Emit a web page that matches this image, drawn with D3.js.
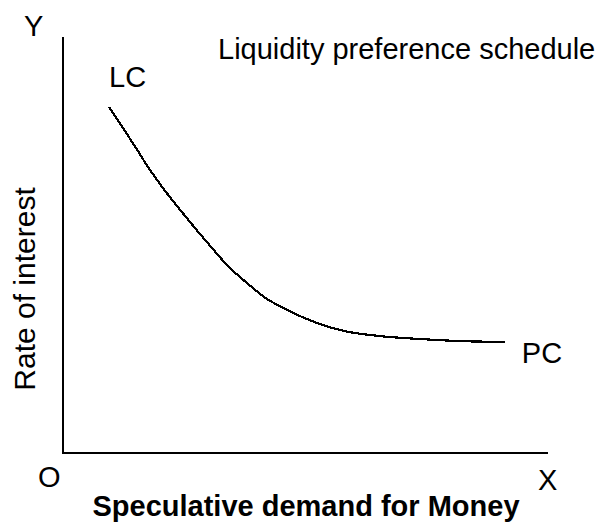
<!DOCTYPE html>
<html>
<head>
<meta charset="utf-8">
<script src="https://cdn.jsdelivr.net/npm/d3@7"></script>
<style>
  body { margin: 0; background: #fff; }
  svg { display: block; font-family: 'Liberation Sans', Arial, sans-serif; }
</style>
</head>
<body>
<svg width="600" height="522"></svg>
<script>
// speculative demand for money (x) vs rate of interest (y)
const demand = [9.5, 11.8, 14.9, 17.5, 20.6, 23.5, 27.2, 30.7, 33.8, 37.9, 42.1, 45.4, 48.9, 53.0, 58.1, 65.4, 73.6, 81.9, 91.1]
const interest = [83.2, 79.1, 73.6, 68.8, 63.7, 59.4, 54.1, 49.3, 45.2, 40.9, 37.0, 34.9, 32.9, 31.0, 29.3, 28.1, 27.4, 26.9, 26.7]

const title = 'Liquidity preference schedule'
const xTitle = 'Speculative demand for Money'
const yTitle = 'Rate of interest'

const svg = d3.select('svg')

const x = d3.scaleLinear().domain([0, 100]).range([63, 548])
const y = d3.scaleLinear().domain([0, 100]).range([453, 37])

const points = demand.map((d, i) => [d, interest[i]])

// axes (plain lines, no ticks)
svg.append('line')
  .attr('x1', x(0)).attr('x2', x(0))
  .attr('y1', y(100)).attr('y2', y(0))
  .attr('stroke', '#000').attr('stroke-width', 2)

svg.append('line')
  .attr('x1', x(0) - 1).attr('x2', x(100))
  .attr('y1', y(0)).attr('y2', y(0))
  .attr('stroke', '#000').attr('stroke-width', 2)

const line = d3.line()
  .x(d => x(d[0]))
  .y(d => y(d[1]))
  .curve(d3.curveMonotoneX)

svg.append('path')
  .datum(points)
  .attr('d', line)
  .attr('fill', 'none')
  .attr('stroke', '#000')
  .attr('stroke-width', 2.2)
  .attr('shape-rendering', 'crispEdges')

const first = points[0]
const last = points[points.length - 1]

svg.append('text')
  .attr('x', x(first[0]))
  .attr('y', y(first[1]) - 20)
  .attr('font-size', 29)
  .text('LC')

svg.append('text')
  .attr('x', x(last[0]) + 17)
  .attr('y', y(last[1]) + 21)
  .attr('font-size', 29)
  .text('PC')

svg.append('text')
  .attr('x', 218).attr('y', 59)
  .attr('font-size', 29)
  .text(title)

svg.append('text')
  .attr('x', 24).attr('y', 36)
  .attr('font-size', 29)
  .text('Y')

svg.append('text')
  .attr('x', 38).attr('y', 487)
  .attr('font-size', 29)
  .text('O')

svg.append('text')
  .attr('x', 538).attr('y', 490)
  .attr('font-size', 29)
  .text('X')

svg.append('text')
  .attr('transform', 'translate(35,289) rotate(-90)')
  .attr('text-anchor', 'middle')
  .attr('font-size', 30)
  .text(yTitle)

svg.append('text')
  .attr('x', 306).attr('y', 516)
  .attr('text-anchor', 'middle')
  .attr('font-size', 29)
  .attr('font-weight', 'bold')
  .text(xTitle)
</script>
</body>
</html>
